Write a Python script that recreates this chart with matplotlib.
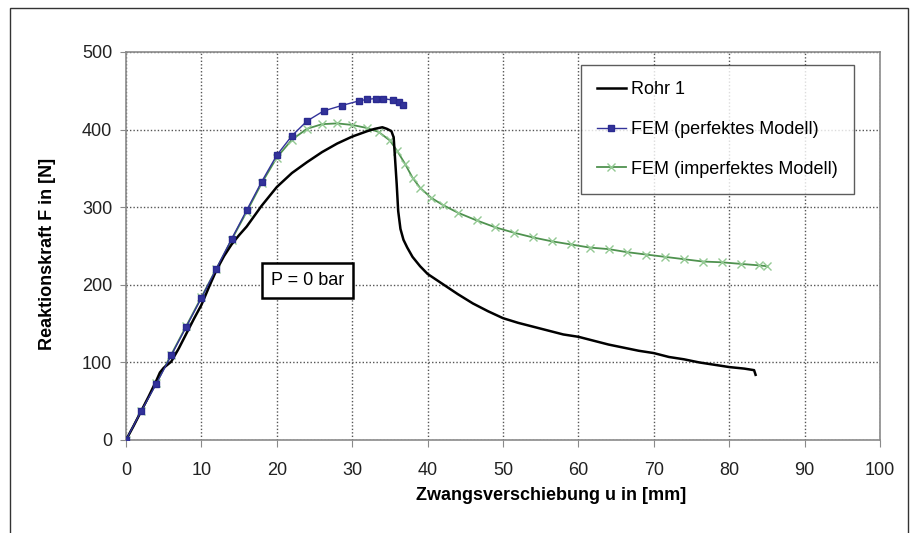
import matplotlib.pyplot as plt
from matplotlib.patches import Rectangle
from matplotlib.transforms import Bbox, TransformedBbox

plt.rcParams['font.family'] = ['Liberation Sans', 'DejaVu Sans']

# Rohr 1 (Versuch)
rohr_u = [0, 1, 2, 3, 4, 4.5, 5, 5.5, 6, 7, 8, 9, 10, 11, 12, 13, 14, 15, 16, 18, 20, 22, 24, 26,
          28, 30, 32, 33, 34, 34.6, 35.2, 35.5, 35.7, 35.9, 36.1, 36.4, 36.8, 37.3, 38, 39, 40, 42,
          44, 46, 48, 50, 52, 54, 56, 58, 60, 62, 64, 66, 68, 70, 72, 74, 76, 78, 80, 82, 83.3,
          83.5]
rohr_f = [0, 18, 37, 56, 76, 87, 93, 97, 101, 118, 137, 156, 174, 197, 219, 237, 252, 264, 275,
          302, 326, 344, 358, 371, 382, 391, 398, 401, 403, 401, 398, 390, 360, 330, 295, 272, 258,
          248, 236, 224, 214, 201, 188, 176, 166, 157, 151, 146, 141, 136, 133, 128, 123, 119, 115,
          112, 107, 104, 100, 97, 94, 92, 90, 84]

# FEM perfektes Modell
perf_u = [0, 2, 4, 6, 8, 10, 12, 14, 16, 18, 20, 22, 24, 26.2, 28.6, 30.9, 32, 33.1, 34.1, 35.4,
          36.2, 36.8]
perf_f = [0, 37, 72, 109, 146, 183, 221, 259, 296, 333, 367, 392, 411, 424, 431, 437, 439, 440,
          440, 438, 435, 432]

# FEM imperfektes Modell
imp_u = [0, 2, 4, 6, 8, 10, 12, 14, 16, 18, 20, 22, 24, 26, 28, 30, 32, 33.5, 35, 36, 37, 38, 39,
         40.5, 42, 44, 46.5, 49, 51.5, 54, 56.5, 59, 61.5, 64, 66.5, 69, 71.5, 74, 76.5, 79, 81.5,
         84, 85]
imp_f = [0, 37, 73, 110, 147, 184, 221, 258, 294, 331, 364, 387, 401, 407, 408, 406, 402, 397,
         386, 372, 356, 338, 325, 312, 303, 293, 283, 274, 267, 261, 256, 252, 248, 246, 242, 239,
         236, 233, 230, 229, 227, 225, 224]

fig = plt.figure(figsize=(9.23, 5.33), dpi=100)
ax = fig.add_axes([126/923, 93/533, 754/923, 388/533])

ax.plot(rohr_u, rohr_f, color='black', lw=1.8, label='Rohr 1', zorder=3)
ax.plot(perf_u, perf_f, color='#33339a', lw=1, marker='s', ms=5, mec='#2a2a90',
        label='FEM (perfektes Modell)', zorder=4)
ax.plot(imp_u, imp_f, color='#4f924f', lw=1.3, marker='x', ms=6, mew=1, mec='#93c993',
        label='FEM (imperfektes Modell)', zorder=2)

ax.set_xlim(0, 100)
ax.set_ylim(0, 500)
ax.set_xticks(range(0, 101, 10))
ax.set_yticks(range(0, 501, 100))
ax.grid(True, color='#555555', linestyle=(0, (1, 1.5)), lw=1)
for s in ax.spines.values():
    s.set_color('#8a8a8a')
    s.set_linewidth(1.2)
ax.tick_params(axis='both', colors='#8a8a8a', labelcolor='#222222', labelsize=13, direction='out')
ax.tick_params(axis='y', length=4, pad=6)
ax.tick_params(axis='x', length=5, pad=11)

ax.set_xlabel('Zwangsverschiebung u in [mm]', fontsize=13, fontweight='bold')
ax.set_ylabel('Reaktionskraft F in [N]', fontsize=13, fontweight='bold')
ax.xaxis.set_label_coords(0.564, -0.122)
ax.yaxis.set_label_coords(-0.093, 0.48)

leg = ax.legend(loc='upper left', bbox_to_anchor=(0.603, 0.966), borderaxespad=0, fontsize=13,
                frameon=True, fancybox=False, labelspacing=1.25, handlelength=1.6,
                handletextpad=0.3, borderpad=0.9)
leg.get_frame().set_edgecolor('#333333')
leg.get_frame().set_linewidth(1)

ax.text(24.1, 205, 'P = 0 bar', fontsize=13, ha='center', va='center',
        bbox=dict(boxstyle='square,pad=0.5', fc='white', ec='black', lw=1.8))

# Rahmen um die Grafik
fig.patches.append(Rectangle((10/923, -0.1), 898/923, 1.1 - 8/533, transform=fig.transFigure,
                             fill=False, ec='#333333', lw=1))

fig.canvas.draw()
clip = TransformedBbox(Bbox([[0, 0], [896/923, 1]]), fig.transFigure)
for lbl in ax.get_xticklabels():
    lbl.set_clip_box(clip)
    lbl.set_clip_on(True)

fig.savefig('out.png', dpi=100)
